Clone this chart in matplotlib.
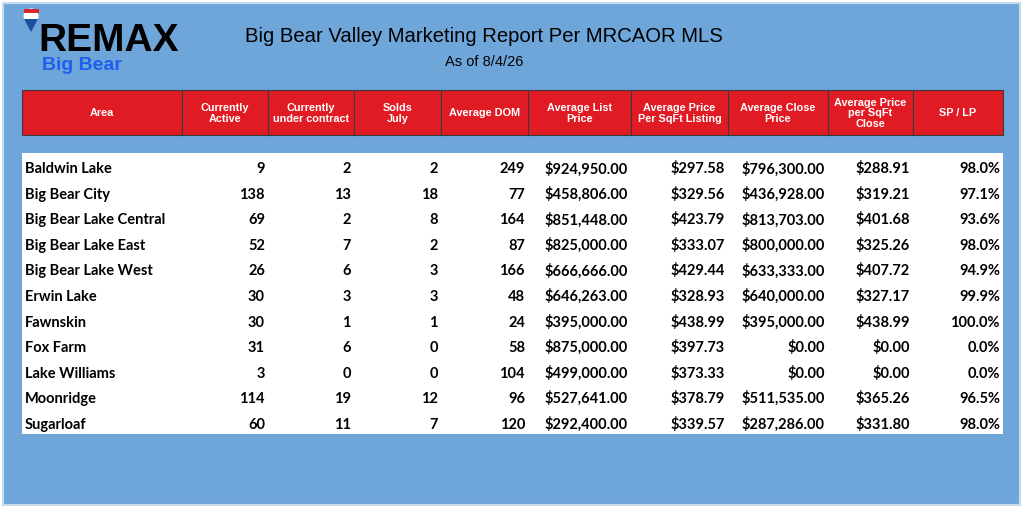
"""Big Bear Valley marketing report table drawn as a figure."""

import matplotlib.pyplot as plt
from matplotlib.patches import Rectangle, Circle, Polygon

HEADERS = ["Area", "Currently\nActive", "Currently\nunder contract", "Solds\nJuly",
           "Average DOM", "Average List\nPrice", "Average Price\nPer SqFt Listing",
           "Average Close\nPrice", "Average Price\nper SqFt\nClose", "SP / LP"]
EDGES = [22, 182, 268, 354, 441, 528, 631, 728, 828, 913, 1003]

ROWS = [
    ("Baldwin Lake", 9, 2, 2, 249, 924950.00, 297.58, 796300.00, 288.91, 98.0),
    ("Big Bear City", 138, 13, 18, 77, 458806.00, 329.56, 436928.00, 319.21, 97.1),
    ("Big Bear Lake Central", 69, 2, 8, 164, 851448.00, 423.79, 813703.00, 401.68, 93.6),
    ("Big Bear Lake East", 52, 7, 2, 87, 825000.00, 333.07, 800000.00, 325.26, 98.0),
    ("Big Bear Lake West", 26, 6, 3, 166, 666666.00, 429.44, 633333.00, 407.72, 94.9),
    ("Erwin Lake", 30, 3, 3, 48, 646263.00, 328.93, 640000.00, 327.17, 99.9),
    ("Fawnskin", 30, 1, 1, 24, 395000.00, 438.99, 395000.00, 438.99, 100.0),
    ("Fox Farm", 31, 6, 0, 58, 875000.00, 397.73, 0.00, 0.00, 0.0),
    ("Lake Williams", 3, 0, 0, 104, 499000.00, 373.33, 0.00, 0.00, 0.0),
    ("Moonridge", 114, 19, 12, 96, 527641.00, 378.79, 511535.00, 365.26, 96.5),
    ("Sugarloaf", 60, 11, 7, 120, 292400.00, 339.57, 287286.00, 331.80, 98.0),
]

BLUE = "#6fa6da"
RED = "#e01b24"

fig = plt.figure(figsize=(10.24, 5.10), dpi=100)
ax = fig.add_axes([0, 0, 1, 1])
ax.set_xlim(0, 1024)
ax.set_ylim(510, 0)
ax.axis("off")
fig.patch.set_facecolor("white")
ax.add_patch(Rectangle((3, 4), 1017, 502, facecolor=BLUE, edgecolor="#c9dbea", lw=1.5))

# logo
ax.add_patch(Circle((31, 17), 7.5, facecolor="white", edgecolor="none", zorder=3))
ax.add_patch(Rectangle((23.5, 9.5), 15, 4.5, facecolor="#d7262c", zorder=4))
ax.add_patch(Polygon([(24, 20), (38, 20), (31, 33)], facecolor="#1d4fa0", zorder=4))
ax.text(38, 41, "REMAX", fontsize=28, fontweight="bold", color="black",
        ha="left", va="center", family="Liberation Sans")
ax.text(42, 66, "Big Bear", fontsize=14, fontweight="bold", color="#1f5ff0",
        ha="left", va="center", family="Liberation Sans")

ax.text(484, 36, "Big Bear Valley Marketing Report Per MRCAOR MLS", fontsize=14.6,
        ha="center", va="center", family="Liberation Sans")
ax.text(484, 62, "As of 8/4/26", fontsize=10.5, ha="center", va="center",
        family="Liberation Sans")

# header
for i, h in enumerate(HEADERS):
    x0, x1 = EDGES[i], EDGES[i + 1]
    ax.add_patch(Rectangle((x0, 91), x1 - x0, 45, facecolor=RED, edgecolor="#3a3a3a", lw=0.8))
    ax.text((x0 + x1) / 2, 113.5, h, fontsize=7.8, fontweight="bold", color="white",
            ha="center", va="center", linespacing=1.1, family="Liberation Sans")

# body
top, bottom = 154, 435
ax.add_patch(Rectangle((EDGES[0], top), EDGES[-1] - EDGES[0], bottom - top,
                       facecolor="white", edgecolor="none"))
step = (bottom - top) / len(ROWS)
for r, row in enumerate(ROWS):
    y = top + step * (r + 0.56) + 5
    cells = [row[0], str(row[1]), str(row[2]), str(row[3]), str(row[4]),
             f"${row[5]:,.2f}", f"${row[6]:,.2f}", f"${row[7]:,.2f}",
             f"${row[8]:,.2f}", f"{row[9]:.1f}%"]
    for c, txt in enumerate(cells):
        if c == 0:
            ax.text(EDGES[0] + 3, y, txt, fontsize=10.5, fontweight="bold",
                    ha="left", va="baseline", family="Lato")
        else:
            ax.text(EDGES[c + 1] - 3, y, txt, fontsize=10.5, fontweight="bold",
                    ha="right", va="baseline", family="Lato")

fig.savefig("out.png", dpi=100)
